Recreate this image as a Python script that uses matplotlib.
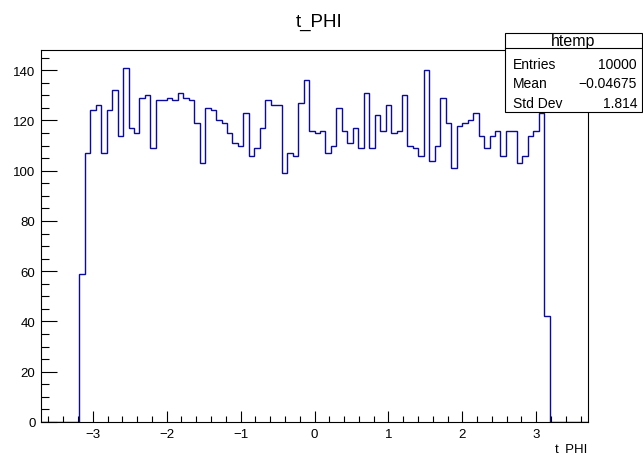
import numpy as np
import matplotlib
matplotlib.use('Agg')
import matplotlib.pyplot as plt
from matplotlib.ticker import MultipleLocator
from matplotlib.patches import Rectangle

plt.rcParams['font.family'] = ['Liberation Sans', 'DejaVu Sans']

# histogram definition (ROOT htemp, 100 bins)
x_min, x_max, n_bins = -3.7, 3.7, 100
first_bin = 7
counts = [59, 107, 124, 126, 107, 124, 132, 114, 141, 117,
          115, 129, 130, 109, 128, 128, 129, 128, 131, 129,
          128, 119, 103, 125, 124, 120, 119, 115, 111, 110,
          123, 106, 109, 117, 128, 126, 126, 99, 107, 106,
          127, 136, 116, 115, 116, 107, 110, 125, 116, 111,
          117, 109, 131, 109, 122, 116, 126, 115, 116, 130,
          110, 109, 106, 140, 104, 110, 129, 119, 101, 118,
          119, 120, 123, 114, 109, 114, 116, 106, 116, 116,
          103, 106, 114, 116, 123, 42]

stat_names = ['Entries', 'Mean', 'Std Dev']
stat_values = ['10000', '\u22120.04675', '1.814']

values = np.zeros(n_bins)
values[first_bin:first_bin + len(counts)] = counts
edges = np.linspace(x_min, x_max, n_bins + 1)

fig = plt.figure(figsize=(6.43, 4.56), dpi=100)
ax = fig.add_axes([41 / 643, 33 / 456, 547 / 643, 372 / 456])

ax.stairs(values, edges, color='#0a0aa0', lw=1.0, baseline=0)

ax.set_xlim(x_min, x_max)
ax.set_ylim(0, 1.05 * max(counts))

ax.xaxis.set_major_locator(MultipleLocator(1))
ax.xaxis.set_minor_locator(MultipleLocator(0.2))
ax.yaxis.set_major_locator(MultipleLocator(20))
ax.yaxis.set_minor_locator(MultipleLocator(5))

ax.tick_params(axis='both', which='both', direction='in', top=False, right=False,
               labelsize=9.5, width=0.8, color='black')
ax.tick_params(axis='x', which='major', length=8, pad=4)
ax.tick_params(axis='x', which='minor', length=4)
ax.tick_params(axis='y', which='major', length=11.8, pad=4)
ax.tick_params(axis='y', which='minor', length=5.9)
for s in ax.spines.values():
    s.set_linewidth(0.8)

fig.text(0.497, 1 - 22 / 456, 't_PHI', ha='center', va='center', fontsize=13.5)
fig.text(588 / 643, 1 - 449 / 456, 't_PHI', ha='right', va='center', fontsize=9.5)

# stats box
bx0, bx1 = 505 / 643, 642 / 643
by_top, by_bot = 1 - 34 / 456, 1 - 113 / 456
fig.patches.append(Rectangle((bx0, by_bot), bx1 - bx0, by_top - by_bot,
                             transform=fig.transFigure, facecolor='white',
                             edgecolor='black', lw=0.8, zorder=5))
sep_y = 1 - 49 / 456
fig.add_artist(plt.Line2D([bx0, bx1], [sep_y, sep_y], transform=fig.transFigure,
                          color='black', lw=0.8, zorder=6))
fig.text((bx0 + bx1) / 2, 1 - 41.5 / 456, 'htemp', ha='center', va='center',
         fontsize=11.5, zorder=7)
for i, (name, val) in enumerate(zip(stat_names, stat_values)):
    yy = 1 - (65 + 19.5 * i) / 456
    fig.text(513 / 643, yy, name, ha='left', va='center', fontsize=10, zorder=7)
    fig.text(637 / 643, yy, val, ha='right', va='center', fontsize=10, zorder=7)

fig.savefig('out.png', dpi=100)
